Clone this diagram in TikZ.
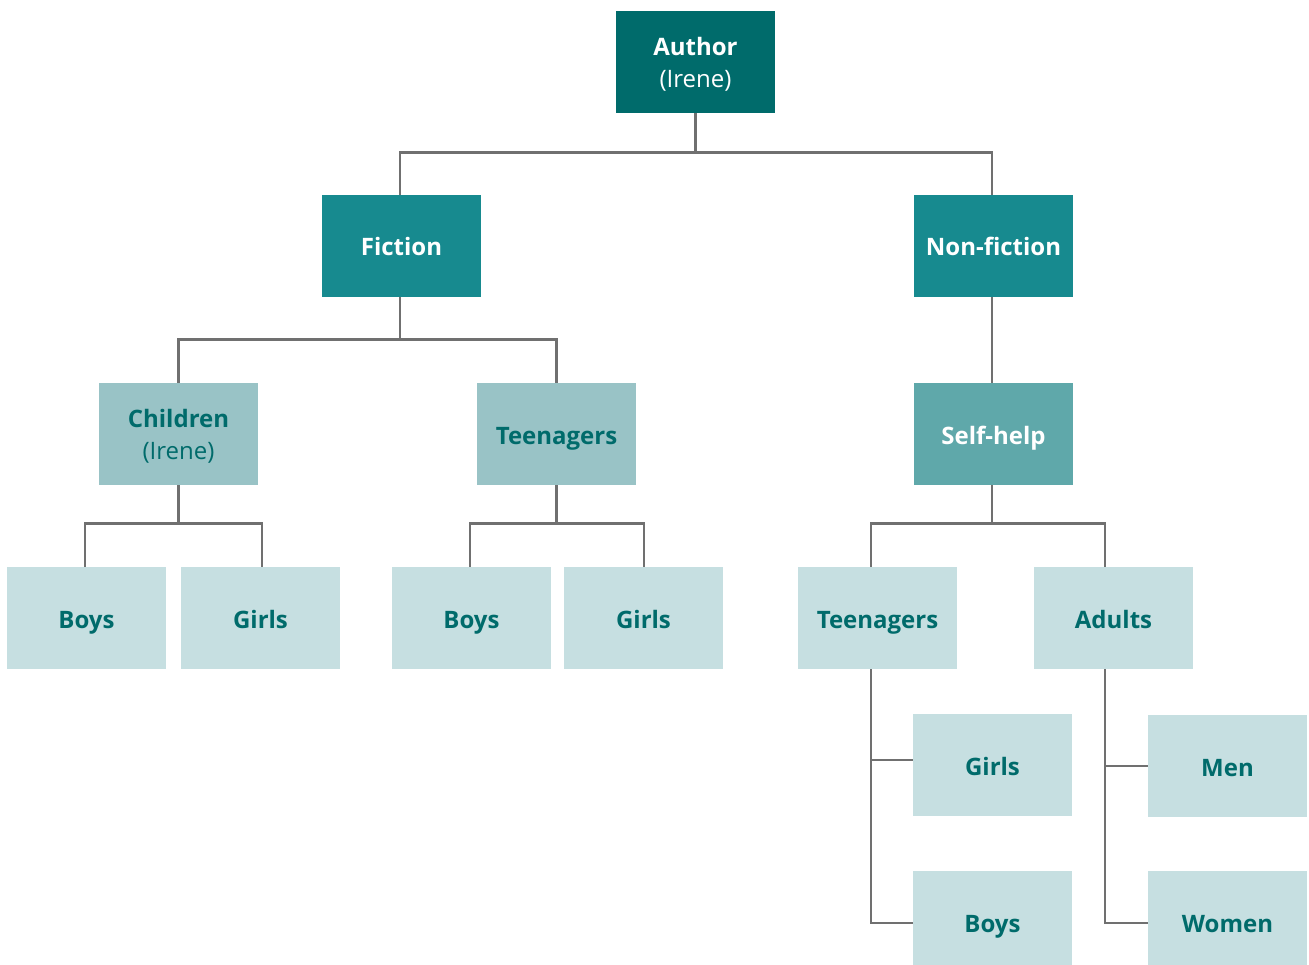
\documentclass[tikz,border=0pt]{standalone}
\usepackage{fontspec}
\setmainfont{Open Sans}
\definecolor{tealdark}{HTML}{006B6B}
\definecolor{tealmid}{HTML}{178A8F}
\definecolor{tealsoft}{HTML}{5FA8AA}
\definecolor{teallight}{HTML}{99C3C6}
\definecolor{tealpale}{HTML}{C6DFE1}
\definecolor{linegray}{HTML}{707070}
\newcommand{\twolines}[2]{\begin{tabular}[b]{@{}c@{}}#1\\\mdseries #2\end{tabular}}
\tikzset{
  box/.style={rectangle, minimum width=159pt, minimum height=102pt, inner sep=0pt,
    font=\fontsize{24}{32}\selectfont\bfseries,
    text height=20pt, text depth=0pt},
  twoline/.style={text height=51pt, text depth=0pt},
  lvlA/.style={box, fill=tealdark, text=white},
  lvlB/.style={box, fill=tealmid, text=white},
  lvlS/.style={box, fill=tealsoft, text=white},
  lvlC/.style={box, fill=teallight, text=tealdark},
  lvlD/.style={box, fill=tealpale, text=tealdark},
  conn/.style={draw=linegray, line width=2.8pt}
}
\begin{document}
\begin{tikzpicture}[x=1pt, y=-1pt]
\useasboundingbox (0,0) rectangle (1309,965);
\begin{scope}
\clip (0,0) rectangle (1309,965);
% boxes
\node[lvlA, twoline] (author) at (695.5,62) {\twolines{Author}{(Irene)}};
\node[lvlB] (fiction) at (401.5,246) {Fiction};
\node[lvlB] (nonfic) at (993.5,246) {Non-fiction};
\node[lvlC, twoline] (children) at (178.5,434) {\twolines{Children}{(Irene)}};
\node[lvlC] (teena) at (556.5,434) {Teenagers};
\node[lvlS] (selfhelp) at (993.5,434) {Self-help};
\node[lvlD] (boysa) at (86.5,618) {Boys};
\node[lvlD] (girlsa) at (260.5,618) {Girls};
\node[lvlD] (boysb) at (471.5,618) {Boys};
\node[lvlD] (girlsb) at (643.5,618) {Girls};
\node[lvlD] (teenb) at (877.5,618) {Teenagers};
\node[lvlD] (adults) at (1113.5,618) {Adults};
\node[lvlD] (girlsc) at (992.5,765) {Girls};
\node[lvlD] (boysc) at (992.5,922) {Boys};
\node[lvlD] (men) at (1227.5,766) {Men};
\node[lvlD] (women) at (1227.5,922) {Women};

% elbow connectors
\draw[conn] (author.south) -- ++(0,39) -| ([xshift=-1.5pt]fiction.north);
\draw[conn] (author.south) -- ++(0,39) -| ([xshift=-1.5pt]nonfic.north);
\draw[conn] ([xshift=-1.5pt]fiction.south) -- ++(0,42) -| (children.north);
\draw[conn] ([xshift=-1.5pt]fiction.south) -- ++(0,42) -| (teena.north);
\draw[conn] ([xshift=-1.5pt]nonfic.south) -- ([xshift=-1.5pt]selfhelp.north);
\draw[conn] (children.south) -- ++(0,38) -| ([xshift=-1.5pt]boysa.north);
\draw[conn] (children.south) -- ++(0,38) -| ([xshift=1.5pt]girlsa.north);
\draw[conn] (teena.south) -- ++(0,38) -| ([xshift=-1.5pt]boysb.north);
\draw[conn] (teena.south) -- ++(0,38) -| ([xshift=0.5pt]girlsb.north);
\draw[conn] ([xshift=-1.5pt]selfhelp.south) -- ++(0,38) -| ([xshift=-6.5pt]teenb.north);
\draw[conn] ([xshift=-1.5pt]selfhelp.south) -- ++(0,38) -| ([xshift=-8.5pt]adults.north);
\draw[conn] ([xshift=-6.5pt]teenb.south) |- ([yshift=5pt]girlsc.west);
\draw[conn] ([xshift=-6.5pt]teenb.south) |- ([yshift=-1pt]boysc.west);
\draw[conn] ([xshift=-8.5pt]adults.south) |- ([yshift=0pt]men.west);
\draw[conn] ([xshift=-8.5pt]adults.south) |- ([yshift=-1pt]women.west);
\end{scope}
\end{tikzpicture}
\end{document}
